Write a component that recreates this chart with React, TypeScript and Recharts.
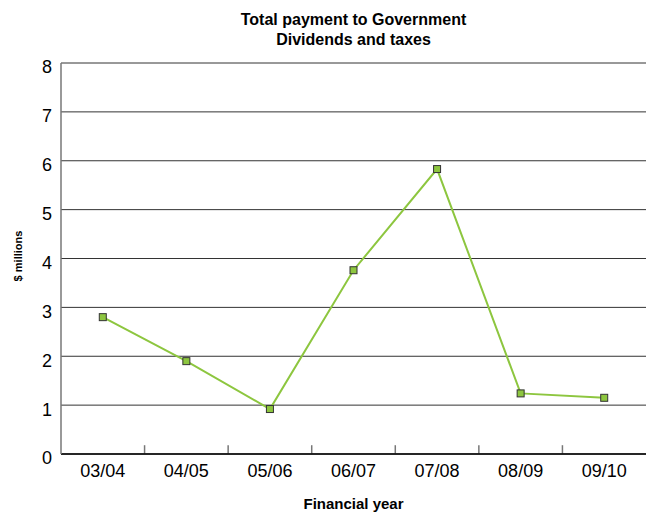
import React from "react";
import {
  LineChart,
  Line,
  XAxis,
  YAxis,
  CartesianGrid,
  ReferenceLine,
} from "recharts";

const years = ["03/04", "04/05", "05/06", "06/07", "07/08", "08/09", "09/10"];
const payments = [2.8, 1.9, 0.92, 3.76, 5.83, 1.24, 1.15];
const yTicks = [0, 1, 2, 3, 4, 5, 6, 7, 8];
const boundaries = [1, 2, 3, 4, 5, 6];

const data = years.map((year, i) => ({ pos: i + 0.5, year, value: payments[i] }));

const FONT = "'Liberation Sans', Arial, sans-serif";
const GREEN = "#8dc63f";

function SquareDot(props: any): React.ReactElement {
  const { cx, cy, index } = props;
  return (
    <rect
      key={`dot-${index}`}
      x={cx - 3.5}
      y={cy - 3.5}
      width={7}
      height={7}
      fill={GREEN}
      stroke="#333"
      strokeWidth={1}
    />
  );
}

export default function App(): React.ReactElement {
  return (
    <div
      style={{
        position: "absolute",
        left: 0,
        top: 0,
        width: 646,
        height: 516,
        background: "#fff",
        fontFamily: FONT,
      }}
    >
      <div
        style={{
          position: "absolute",
          left: 61,
          width: 585,
          top: 10,
          textAlign: "center",
          fontWeight: "bold",
          fontSize: 16,
          lineHeight: "20px",
          color: "#000",
        }}
      >
        Total payment to Government
        <br />
        Dividends and taxes
      </div>
      <div
        style={{
          position: "absolute",
          left: 61,
          width: 585,
          top: 495,
          textAlign: "center",
          fontWeight: "bold",
          fontSize: 15,
          lineHeight: "18px",
          color: "#000",
        }}
      >
        Financial year
      </div>
      <div
        style={{
          position: "absolute",
          left: 18,
          top: 256,
          transform: "translate(-50%, -50%) rotate(-90deg)",
          whiteSpace: "nowrap",
          fontWeight: "bold",
          fontSize: 11,
          color: "#000",
        }}
      >
        $ millions
      </div>
      <LineChart
        width={646}
        height={516}
        data={data}
        margin={{ top: 63, right: 0, bottom: 0, left: 0 }}
        style={{ position: "absolute", left: 0, top: 0 }}
      >
        <CartesianGrid horizontal vertical={false} stroke="#333" />
        <XAxis
          dataKey="pos"
          type="number"
          domain={[0, 7]}
          ticks={data.map((d) => d.pos)}
          tickFormatter={(v: number) => years[Math.floor(v)]}
          height={62}
          tickLine={false}
          tickSize={0}
          tickMargin={10}
          axisLine={{ stroke: "#000", strokeWidth: 1.5 }}
          tick={{ fill: "#000", fontSize: 18, fontFamily: FONT }}
          allowDataOverflow
        />
        <YAxis
          domain={[0, 8]}
          ticks={yTicks}
          width={61}
          tickLine={false}
          tickSize={0}
          tickMargin={9}
          axisLine={{ stroke: "#777", strokeWidth: 1.5 }}
          tick={{ fill: "#000", fontSize: 18, fontFamily: FONT, dy: 4 }}
          interval={0}
        />
        {boundaries.map((b) => (
          <ReferenceLine
            key={b}
            segment={[
              { x: b, y: 0 },
              { x: b, y: 0.18 },
            ]}
            stroke="#777"
            strokeWidth={1.5}
          />
        ))}
        <Line
          type="linear"
          dataKey="value"
          stroke={GREEN}
          strokeWidth={2}
          dot={<SquareDot />}
          activeDot={false}
          isAnimationActive={false}
        />
      </LineChart>
    </div>
  );
}
